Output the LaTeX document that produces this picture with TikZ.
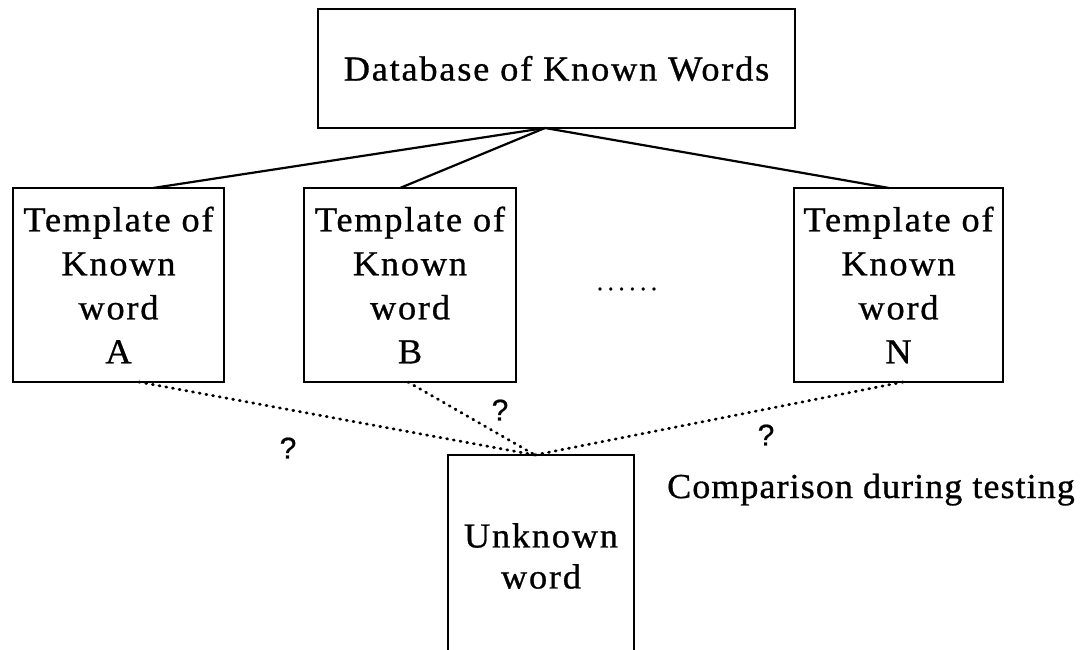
\documentclass[tikz,border=0pt]{standalone}
\usepackage{fontspec}
\usetikzlibrary{calc}
\newfontfamily\labfont{Liberation Serif}[LetterSpace=5, FakeStretch=1.04, FakeBold=0.8]
\newfontfamily\cmpfont{Liberation Serif}[LetterSpace=3, FakeStretch=1.03, FakeBold=0.8]
\newfontfamily\dotfont{Liberation Serif}[LetterSpace=20, FakeBold=0.8]
\newfontfamily\qfont{Liberation Sans}[FakeBold=0.6]
\begin{document}
\begin{tikzpicture}[x=1pt,y=-1pt,
  box/.style={draw, line width=2pt, inner sep=0pt, outer sep=0pt, align=center,
    font=\labfont\fontsize{35}{44}\selectfont},
  link/.style={line width=2.2pt},
  probe/.style={line width=2.8pt, line cap=round, dash pattern=on 1pt off 5.8pt},
  qmark/.style={font=\qfont\fontsize{30}{36}\selectfont, inner sep=0pt}]
\useasboundingbox (0,0) rectangle (1089,650);
\clip (0,0) rectangle (1089,650);

% database and the stored templates
\node[box, minimum width=477pt, minimum height=119pt] (db) at (556.5,68.5) {Database of Known Words};
\node[box, minimum width=211pt, minimum height=194pt] (tA) at (118.5,285) {Template of\\Known\\word\\A};
\node[box, minimum width=212pt, minimum height=194pt] (tB) at (410,285) {Template of\\Known\\word\\B};
\node[box, minimum width=209pt, minimum height=194pt] (tN) at (898.5,285) {Template of\\Known\\word\\N};
\node[font=\dotfont\fontsize{24}{28}\selectfont, inner sep=0pt] (more) at (627,289) {......};

% word under test (runs off the lower edge)
\node[box, minimum width=186pt, minimum height=202pt, font=\labfont\fontsize{35}{41}\selectfont] (uw) at (541,556) {Unknown\\word};
\node[font=\cmpfont\fontsize{35}{44}\selectfont, inner sep=0pt, anchor=base west] (cmp) at (667,498) {Comparison during testing};

% tree links
\coordinate (hub) at ($(db.south west)!0.476!(db.south east)$);
\draw[link] (hub) -- ($(tA.north west)+(140,0)$);
\draw[link] (hub) -- ($(tB.north west)+(96,0)$);
\draw[link] (hub) -- ($(tN.north west)+(95,0)$);

% comparisons
\coordinate (meet) at ($(uw.north west)+(87,0)$);
\draw[probe] ($(tA.south west)+(126,0)$) -- (meet);
\draw[probe] ($(tB.south west)+(104,0)$) -- (meet);
\draw[probe] ($(tN.south west)+(109,0)$) -- (meet);

\node[qmark] (qA) at (288,448) {?};
\node[qmark] (qB) at (500,410) {?};
\node[qmark] (qN) at (766,435) {?};
\end{tikzpicture}
\end{document}
